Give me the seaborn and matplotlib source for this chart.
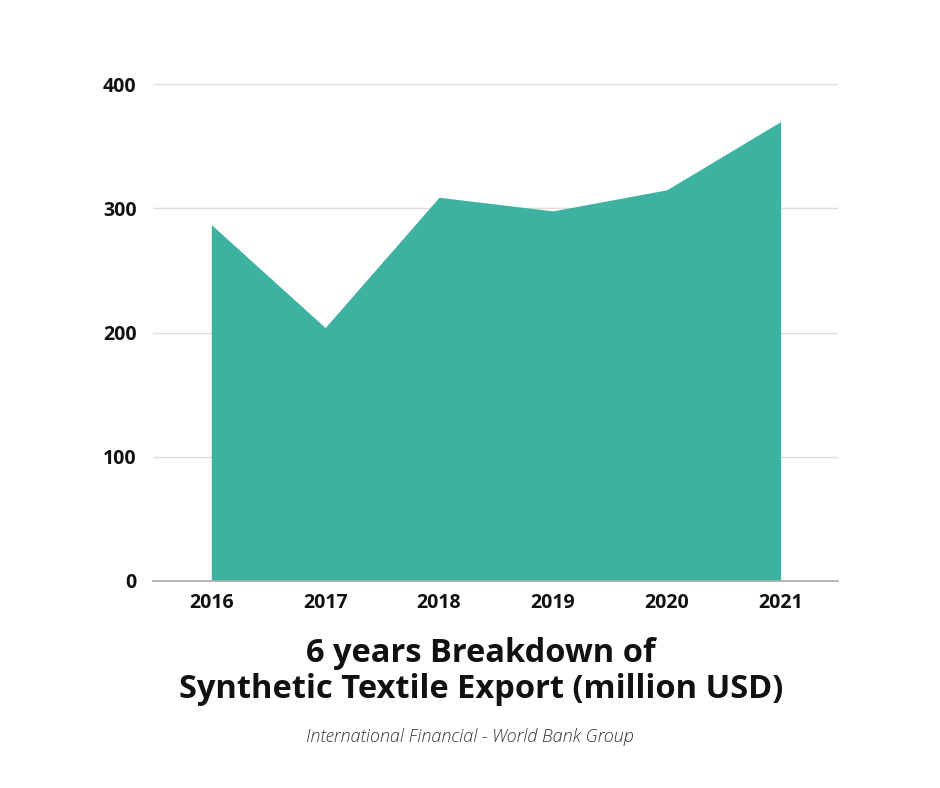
#!/usr/bin/env python3
import pandas as pd
import seaborn as sns
import matplotlib.pyplot as plt

# ---------- Data ----------
years = ["2016", "2017", "2018", "2019", "2020", "2021"]
exports = [287, 204, 309, 298, 315, 370]
y_ticks = [0, 100, 200, 300, 400]

TEAL = "#3eb2a0"
FONT = ["Open Sans", "DejaVu Sans"]


def main() -> int:
    df = pd.DataFrame({"pos": range(len(years)), "year": years, "value": exports})

    sns.set_theme(style="white")
    plt.rcParams["font.family"] = FONT

    fig = plt.figure(figsize=(9.4, 7.88), dpi=100)
    ax = fig.add_axes([0.163, 0.263, 0.728, 0.630])

    sns.lineplot(data=df, x="pos", y="value", color=TEAL, linewidth=0, ax=ax)
    ax.fill_between(df["pos"], 0, df["value"], color=TEAL, linewidth=0, zorder=2)

    ax.set_xlim(-0.51, 5.5)
    ax.set_ylim(0, 400)
    ax.set_yticks(y_ticks)
    ax.set_xticks(df["pos"])
    ax.set_xticklabels(years)
    ax.set_xlabel("")
    ax.set_ylabel("")

    ax.grid(axis="y", color="#dddddd", linewidth=1, zorder=0)
    ax.set_axisbelow(True)
    for side in ["top", "right", "left"]:
        ax.spines[side].set_visible(False)
    ax.spines["bottom"].set_color("#aaaaaa")
    ax.spines["bottom"].set_linewidth(1.2)
    ax.spines["bottom"].set_zorder(3)

    ax.tick_params(axis="both", length=0, labelsize=14)
    ax.tick_params(axis="y", pad=12)
    ax.tick_params(axis="x", pad=9)
    for lbl in ax.get_xticklabels() + ax.get_yticklabels():
        lbl.set_fontweight("bold")
        lbl.set_color("#111111")

    fig.text(0.512, 0.148, "6 years Breakdown of\nSynthetic Textile Export (million USD)",
             ha="center", va="center", fontsize=23.5, fontweight="bold",
             color="#111111", linespacing=1.1, family=FONT)
    fig.text(0.5, 0.065, "International Financial - World Bank Group",
             ha="center", va="center", fontsize=13, style="italic",
             fontweight="light", color="#333333", family=FONT)

    fig.savefig("out.png", dpi=100)
    plt.close(fig)
    return 0


if __name__ == "__main__":
    raise SystemExit(main())
